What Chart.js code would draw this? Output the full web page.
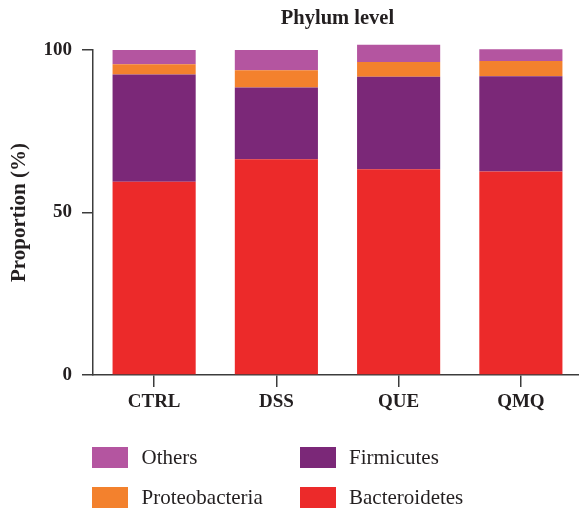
<!DOCTYPE html>
<html>
<head>
<meta charset="utf-8">
<script src="https://cdn.jsdelivr.net/npm/chart.js@4"></script>
<style>
html,body{margin:0;padding:0;background:#fff;overflow:hidden;}
#wrap{position:relative;width:579px;height:508px;overflow:hidden;}
canvas{position:absolute;left:0;top:0;}
.lg{position:absolute;font-family:"Liberation Serif",serif;font-size:21px;color:#231f20;line-height:21px;white-space:nowrap;}
.sw{position:absolute;width:36px;height:21px;}
</style>
</head>
<body>
<div id="wrap"><canvas id="c" width="582" height="508"></canvas></div>
<script>
const categories = ["CTRL", "DSS", "QUE", "QMQ"];
const bacteroidetes = [59.5, 66.4, 63.3, 62.6];
const firmicutes = [33.0, 22.1, 28.5, 29.3];
const proteobacteria = [3.1, 5.3, 4.5, 4.7];
const others = [4.4, 6.2, 5.3, 3.6];
const yTicks = [0, 50, 100];

const seriesNames = ["Bacteroidetes", "Firmicutes", "Proteobacteria", "Others"];
const seriesData = [bacteroidetes, firmicutes, proteobacteria, others];
const seriesColors = ["#ec2a2a", "#7b2878", "#f3812d", "#b455a0"];

const ink = "#231f20";
const axisCol = "#3c3c3c";
const serif = "'Liberation Serif', 'DejaVu Serif', serif";

const chart = new Chart(document.getElementById('c'), {
  type: 'bar',
  data: {
    labels: categories,
    datasets: seriesNames.map((n, i) => ({
      label: n,
      data: seriesData[i],
      backgroundColor: seriesColors[i],
      borderWidth: 0,
      clip: false,
      categoryPercentage: 1.0,
      barPercentage: 0.68
    }))
  },
  options: {
    responsive: false,
    animation: false,
    devicePixelRatio: 1,
    layout: { padding: { left: 0, right: 0, top: 0, bottom: 0 } },
    plugins: {
      legend: { display: false },
      tooltip: { enabled: false },
      title: {
        display: true,
        text: 'Phylum level',
        fullSize: false,
        color: ink,
        font: { family: serif, size: 20.5, weight: 'bold' },
        padding: { top: 6.5, bottom: 18.9 }
      }
    },
    scales: {
      x: {
        stacked: true,
        grid: { display: true, offset: false, drawOnChartArea: false, drawTicks: true, tickLength: 12, color: axisCol, lineWidth: 1.5 },
        border: { display: true, color: axisCol, width: 1.5 },
        ticks: { color: ink, font: { family: serif, size: 19, weight: 'bold' }, padding: 4, maxRotation: 0 },
        afterFit: s => { s.height = 133; }
      },
      y: {
        stacked: true,
        min: 0,
        max: 100,
        afterBuildTicks: s => { s.ticks = yTicks.map(v => ({ value: v })); },
        grid: { display: true, drawOnChartArea: false, drawTicks: true, tickLength: 11, color: axisCol, lineWidth: 1.5 },
        border: { display: true, color: axisCol, width: 1.5 },
        ticks: { color: ink, font: { family: serif, size: 19, weight: 'bold' }, padding: 10 },
        title: { display: true, text: 'Proportion (%)', color: ink, font: { family: serif, size: 21, weight: 'bold' }, padding: { top: 7, bottom: 0 } },
        afterFit: s => { s.width = 93; }
      }
    }
  }
});

// HTML legend built from the dataset definitions
const legendOrder = [3, 1, 2, 0];
const wrap = document.getElementById('wrap');
legendOrder.forEach((di, k) => {
  const col = k % 2, row = Math.floor(k / 2);
  const bx = col === 0 ? 92 : 299.5;
  const by = row === 0 ? 447 : 486.5;
  const sw = document.createElement('div');
  sw.className = 'sw';
  sw.style.left = bx + 'px';
  sw.style.top = by + 'px';
  sw.style.background = chart.data.datasets[di].backgroundColor;
  wrap.appendChild(sw);
  const t = document.createElement('div');
  t.className = 'lg';
  t.style.left = (bx + 49.5) + 'px';
  t.style.top = (by + 0) + 'px';
  t.textContent = chart.data.datasets[di].label;
  wrap.appendChild(t);
});
</script>
</body>
</html>
